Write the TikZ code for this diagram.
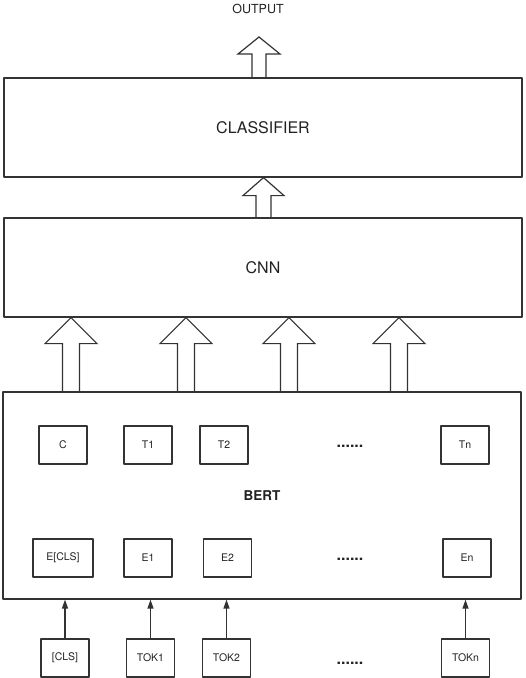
\documentclass[tikz,border=0pt]{standalone}
\usepackage{fontspec}
\setmainfont{TeX Gyre Heros}
\usetikzlibrary{arrows.meta,calc}
\definecolor{linegray}{HTML}{333333}
\definecolor{textgray}{HTML}{222222}
\tikzset{
  bigbox/.style={draw=linegray, line width=1.2pt, minimum width=518pt, minimum height=99pt, inner sep=0pt, text=textgray},
  smallbox/.style={draw=linegray, line width=1.1pt, minimum width=48pt, minimum height=38pt, inner sep=0pt, text=textgray, font=\fontsize{10.5}{12}\selectfont},
  dotsnode/.style={anchor=base, inner sep=0pt, text=textgray, font=\bfseries\fontsize{16}{18}\selectfont},
  hollow/.style={draw=linegray, line width=1.2pt, line join=miter},
  tokarrow/.style={draw=linegray, line width=1.3pt, -{Triangle[length=9pt,width=6pt]}}
}
% hollow block arrow: x, lower point, upper point, shaft half width, head half width, head length
\newcommand{\fatarrow}[6]{%
  \draw[hollow] let \p1=(#2), \p2=(#3) in
    ({(#1-#4)*1pt},\y1) -- ({(#1-#4)*1pt},{\y2-#6pt}) -- ({(#1-#5)*1pt},{\y2-#6pt}) -- ({#1*1pt},\y2)
    -- ({(#1+#5)*1pt},{\y2-#6pt}) -- ({(#1+#4)*1pt},{\y2-#6pt}) -- ({(#1+#4)*1pt},\y1);}
\begin{document}
\begin{tikzpicture}[x=1pt, y=-1pt, line join=round]
	\useasboundingbox (0,0) rectangle (526,678);
	\node[text=textgray, font=\fontsize{12.5}{14}\selectfont] (out) at (258,9) {OUTPUT};
	\coordinate (outtip) at (259,37);
	\node[bigbox, font=\fontsize{16}{18}\selectfont] (classifier) at (263,127.5) {CLASSIFIER};
	\node[bigbox, font=\fontsize{16}{18}\selectfont] (cnn) at (263,267.5) {CNN};
	\node[bigbox, minimum height=207pt, font=\bfseries\fontsize{13.5}{15}\selectfont] (bert) at (262,495.5) {BERT};

	% top row inside BERT
	\node[smallbox] (c) at (63,445) {C};
	\node[smallbox] (t1) at (148,445) {T1};
	\node[smallbox] (t2) at (224,445) {T2};
	\node[dotsnode] (tdots) at (350,447) {......};
	\node[smallbox] (tn) at (465,445) {Tn};

	% bottom row inside BERT
	\node[smallbox, minimum width=60pt] (ecls) at (63,558) {E[CLS]};
	\node[smallbox] (e1) at (148,558) {E1};
	\node[smallbox] (e2) at (227.5,558) {E2};
	\node[dotsnode] (edots) at (350,560) {......};
	\node[smallbox] (en) at (467,558) {En};

	% input tokens
	\node[smallbox] (tokcls) at (65,658) {[CLS]};
	\node[smallbox] (tok1) at (150.5,658) {TOK1};
	\node[smallbox] (tok2) at (226.5,658) {TOK2};
	\node[dotsnode] (tokdots) at (350,664) {......};
	\node[smallbox] (tokn) at (465.5,658) {TOKn};

	\foreach \t in {tokcls,tok1,tok2,tokn}
		\draw[tokarrow] (\t.north) -- (\t.north |- bert.south);

	\foreach \ax in {71,186,289,399}
		{\fatarrow{\ax}{bert.north}{cnn.south}{8.5}{26}{26}}
	\fatarrow{263.5}{cnn.north}{classifier.south}{7.5}{20.5}{18}
	\fatarrow{259}{classifier.north}{outtip}{7}{21}{17}
\end{tikzpicture}
\end{document}
